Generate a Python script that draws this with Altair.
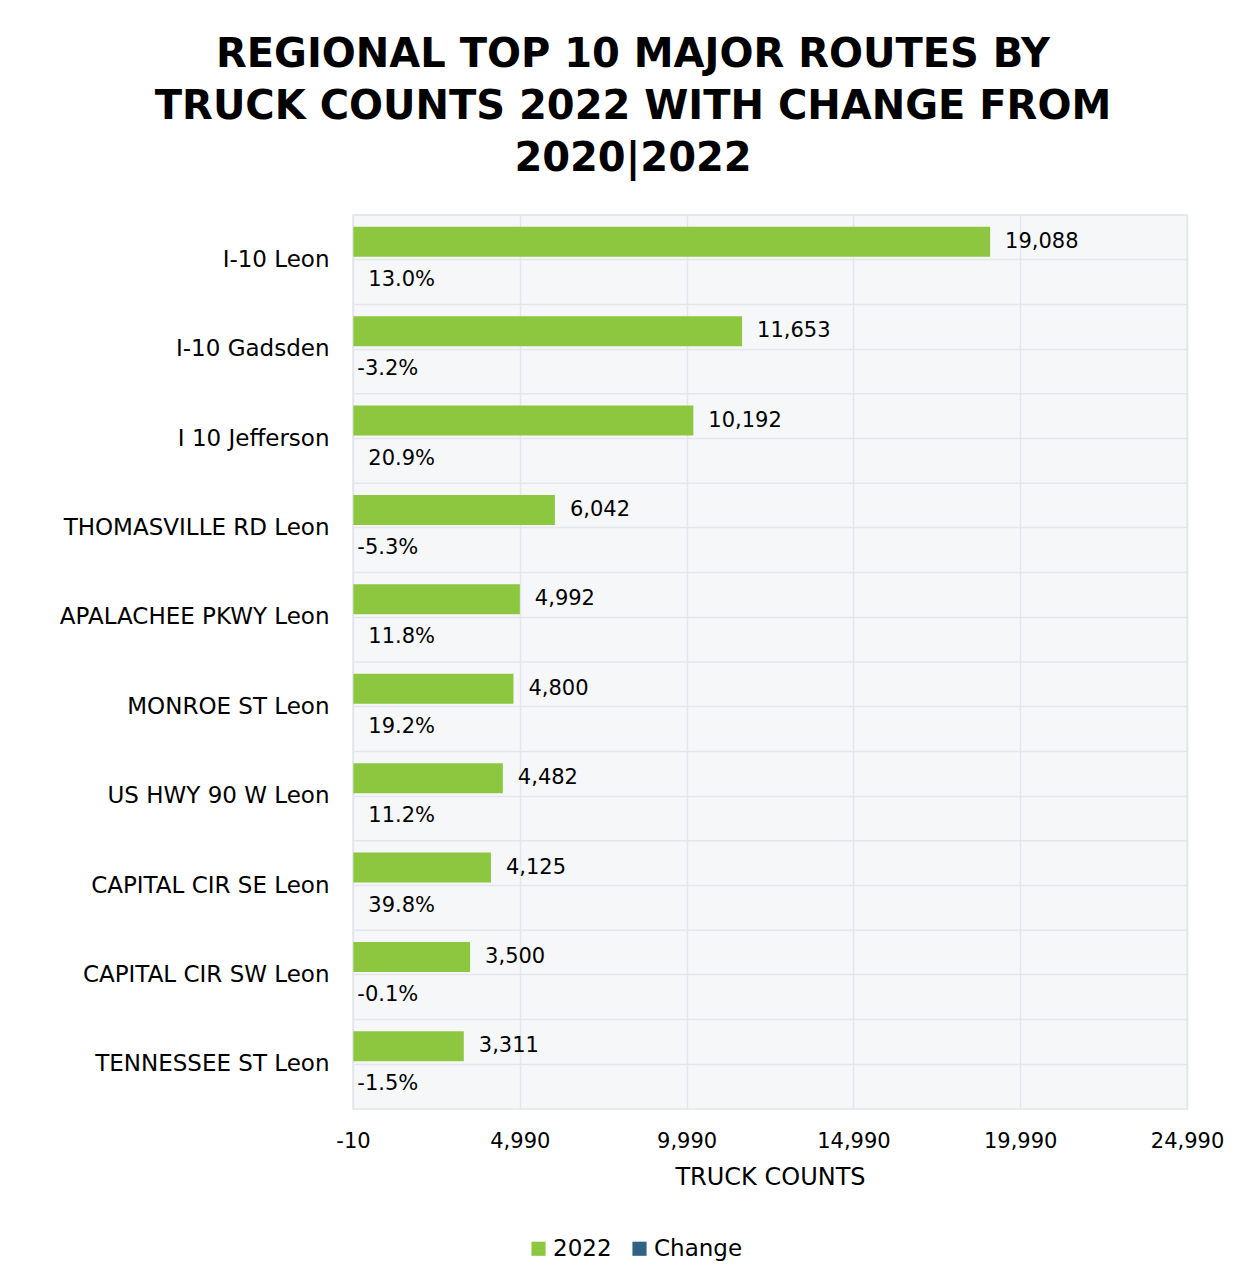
import altair as alt
import pandas as pd

routes = ["I-10 Leon", "I-10 Gadsden", "I 10 Jefferson", "THOMASVILLE RD Leon",
          "APALACHEE PKWY Leon", "MONROE ST Leon", "US HWY 90 W Leon",
          "CAPITAL CIR SE Leon", "CAPITAL CIR SW Leon", "TENNESSEE ST Leon"]
counts_2022 = [19088, 11653, 10192, 6042, 4992, 4800, 4482, 4125, 3500, 3311]
change = [0.130, -0.032, 0.209, -0.053, 0.118, 0.192, 0.112, 0.398, -0.001, -0.015]
series = ["2022", "Change"]
x_ticks = [-10, 4990, 9990, 14990, 19990, 24990]

rows = []
for r, c, ch in zip(routes, counts_2022, change):
    rows.append({"route": r, "series": "2022", "value": c})
    rows.append({"route": r, "series": "Change", "value": ch})
df = pd.DataFrame(rows)

FONT = "DejaVu Sans"
GRID = "#e3e6ea"

y_enc = alt.Y("route:N", sort=routes,
              scale=alt.Scale(paddingInner=0, paddingOuter=0),
              axis=alt.Axis(title=None, domain=False, ticks=False, labelFontSize=23,
                            labelColor="black", labelPadding=24, labelLimit=400,
                            grid=True, gridColor=GRID, gridWidth=1.5, bandPosition=0.5))
yoff = alt.YOffset("series:N", sort=series,
                   scale=alt.Scale(paddingInner=0, paddingOuter=0.49, align=0.4))
x_enc = alt.X("value:Q",
              scale=alt.Scale(domain=[-10, 24990], nice=False, zero=False),
              axis=alt.Axis(values=x_ticks, format=",", labelFlush=False,
                            labelExpr="replace(format(datum.value, ','), '\u2212', '-')",
                            title="TRUCK COUNTS",
                            domain=False, ticks=False, labelFontSize=21, labelColor="black",
                            labelPadding=21, titleFontSize=24, titleFontWeight="normal",
                            titleColor="black", titlePadding=14, gridColor=GRID,
                            gridWidth=1.5))

base = alt.Chart(df).transform_calculate(
    label="replace(format(datum.value, '.1%'), '\u2212', '-')"
)

bounds = base.transform_filter(alt.datum.series == "2022").mark_rule(
    color=GRID, strokeWidth=1.5).encode(
    y=alt.Y("route:N", sort=routes, bandPosition=0)
)

bars = base.mark_bar().encode(
    y=y_enc, yOffset=yoff, x=x_enc,
    color=alt.Color("series:N", sort=series,
                    scale=alt.Scale(domain=series, range=["#8DC63F", "#2E6482"]),
                    legend=alt.Legend(title=None, orient="none", legendX=174, legendY=1022,
                                      direction="horizontal", symbolType="square",
                                      symbolSize=200, symbolStrokeWidth=0,
                                      labelFontSize=23, labelColor="black",
                                      columnPadding=16, labelOffset=3))
)

count_text = base.transform_filter(alt.datum.series == "2022").mark_text(
    align="left", baseline="middle", dx=15, fontSize=21, color="black").encode(
    y=y_enc, yOffset=yoff, x=x_enc,
    text=alt.Text("value:Q", format=",")
)

pos_text = base.transform_filter(
    (alt.datum.series == "Change") & (alt.datum.value >= 0)).mark_text(
    align="left", baseline="middle", dx=15, dy=8, fontSize=21, color="black").encode(
    y=y_enc, yOffset=yoff, x=x_enc,
    text=alt.Text("label:N")
)

neg_text = base.transform_filter(
    (alt.datum.series == "Change") & (alt.datum.value < 0)).mark_text(
    align="left", baseline="middle", dx=4, dy=8, fontSize=21, color="black").encode(
    y=y_enc, yOffset=yoff, x=x_enc,
    text=alt.Text("label:N")
)

chart = alt.layer(bounds, bars, count_text, pos_text, neg_text).properties(
    width=834, height=894,
    title=alt.TitleParams(
        ["REGIONAL TOP 10 MAJOR ROUTES BY", "TRUCK COUNTS 2022 WITH CHANGE FROM", "2020|2022"],
        fontSize=40, fontWeight="bold", color="black", anchor="middle", dx=-137,
        lineHeight=52, offset=35, font=FONT),
    autosize=alt.AutoSizeParams(type="none"),
    padding={"left": 345, "top": 207, "right": 49, "bottom": 164},
).configure(font=FONT, background="white").configure_view(
    stroke=GRID, strokeWidth=1.5, fill="#f6f7f8")

chart.save("out.html", embed_options={"renderer": "svg", "actions": False})
